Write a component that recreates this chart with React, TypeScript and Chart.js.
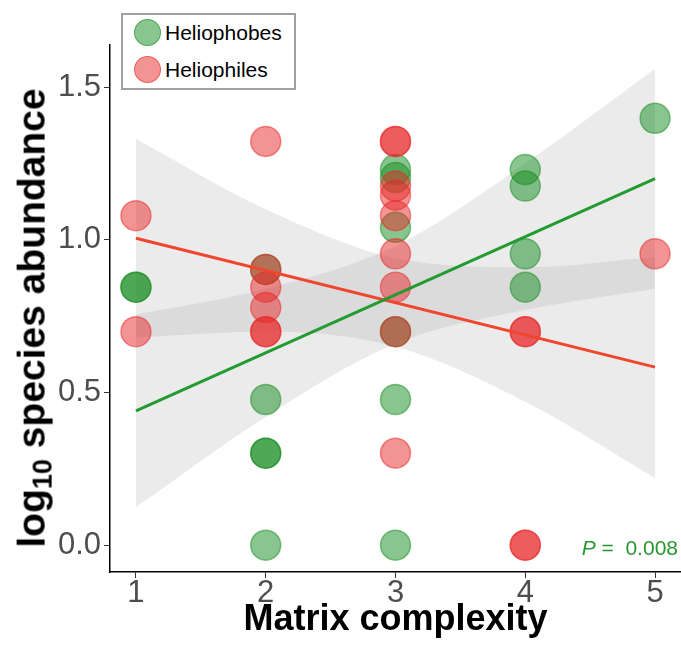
import React, { useEffect, useRef } from 'react';
import { Chart, registerables } from 'chart.js';

Chart.register(...registerables);

// ---- data ----
const xTickValues = [1, 2, 3, 4, 5];
const yTickValues = [0, 0.5, 1.0, 1.5];

// Heliophobes (green)
const phobeX = [1, 1, 2, 2, 2, 2, 2, 3, 3, 3, 3, 3, 3, 4, 4, 4, 4, 5];
const phobeY = [0.845, 0.845, 0.903, 0.477, 0.301, 0.301, 0, 1.23, 1.204, 1.041, 0.699, 0.477, 0, 1.23, 1.176, 0.954, 0.845, 1.398];

// Heliophiles (red)
const phileX = [1, 1, 2, 2, 2, 2, 2, 2, 3, 3, 3, 3, 3, 3, 3, 3, 3, 4, 4, 4, 4, 5];
const phileY = [1.079, 0.699, 1.322, 0.903, 0.845, 0.778, 0.699, 0.699, 1.322, 1.322, 1.176, 1.146, 1.079, 0.954, 0.845, 0.699, 0.301, 0.699, 0.699, 0, 0, 0.954];

// fitted lines
const fitX = [1, 5];
const phobeFit = [0.44, 1.2];
const phileFit = [1.005, 0.583];

// confidence bands
const bandX = [1, 2, 3, 4, 5];
const phobeLower = [0.125, 0.42, 0.66, 0.77, 0.84];
const phobeUpper = [0.755, 0.84, 0.98, 1.25, 1.56];
const phileLower = [0.68, 0.7, 0.65, 0.47, 0.22];
const phileUpper = [1.33, 1.1, 0.94, 0.91, 0.944];

const GREEN_PT = 'rgba(20,140,30,0.5)';
const RED_PT = 'rgba(232,40,40,0.5)';
const GREEN_LINE = 'rgb(35,155,50)';
const RED_LINE = 'rgb(240,70,45)';
const BAND = 'rgba(153,153,153,0.2)';
const FONT = "'Liberation Sans', Arial, Helvetica, sans-serif";

const pts = (xs: number[], ys: number[]) => xs.map((x, i) => ({ x, y: ys[i] }));

export default function App() {
  const ref = useRef<HTMLCanvasElement | null>(null);

  useEffect(() => {
    document.body.style.margin = '0';
    const canvas = ref.current;
    if (!canvas) return;
    const bandDs = (data: number[], fill: any, order: number) => ({
      type: 'line' as const,
      data: pts(bandX, data),
      borderWidth: 0,
      borderColor: 'rgba(0,0,0,0)',
      backgroundColor: BAND,
      pointRadius: 0,
      fill,
      cubicInterpolationMode: 'monotone' as const,
      order,
    });
    const chart = new Chart(canvas, {
      type: 'line',
      data: {
        datasets: [
          bandDs(phobeLower, false, 10),
          bandDs(phobeUpper, '-1', 11),
          bandDs(phileLower, false, 12),
          bandDs(phileUpper, '-1', 13),
          {
            label: 'Heliophobes',
            data: pts(phobeX, phobeY),
            showLine: false,
            pointRadius: 15,
            pointHoverRadius: 15,
            backgroundColor: GREEN_PT,
            borderColor: GREEN_PT,
            borderWidth: 1.5,
            order: 5,
          },
          {
            label: 'Heliophiles',
            data: pts(phileX, phileY),
            showLine: false,
            pointRadius: 15,
            pointHoverRadius: 15,
            backgroundColor: RED_PT,
            borderColor: RED_PT,
            borderWidth: 1.5,
            order: 4,
          },
          {
            data: pts(fitX, phileFit),
            borderColor: RED_LINE,
            borderWidth: 3,
            pointRadius: 0,
            fill: false,
            order: 1,
          },
          {
            data: pts(fitX, phobeFit),
            borderColor: GREEN_LINE,
            borderWidth: 3,
            pointRadius: 0,
            fill: false,
            order: 0,
          },
        ],
      },
      options: {
        animation: false,
        responsive: false,
        events: [],
        layout: { autoPadding: false, padding: { top: 45, left: 0, right: 0, bottom: 0 } },
        plugins: {
          legend: { display: false },
          tooltip: { enabled: false },
          filler: { drawTime: 'beforeDatasetsDraw' },
        },
        scales: {
          x: {
            type: 'linear',
            min: 0.8,
            max: 5.2,
            afterBuildTicks: (s: any) => {
              s.ticks = xTickValues.map((v) => ({ value: v }));
            },
            afterFit: (s: any) => {
              s.height = 73;
              s.paddingLeft = 0;
              s.paddingRight = 0;
            },
            ticks: {
              font: { family: FONT, size: 31 },
              color: '#4d4d4d',
              padding: -3,
              maxRotation: 0,
              autoSkip: false,
              callback: (v: any) => String(v),
            },
            grid: { drawOnChartArea: false, drawTicks: true, tickLength: 6, color: '#333', lineWidth: 1 },
            border: { display: true, color: '#000', width: 1.5 },
            title: {
              display: true,
              text: 'Matrix complexity',
              font: { family: FONT, size: 36, weight: 'bold' },
              color: '#000',
              padding: { top: 0, bottom: 3 },
            },
          },
          y: {
            type: 'linear',
            min: -0.088,
            max: 1.638,
            afterBuildTicks: (s: any) => {
              s.ticks = yTickValues.map((v) => ({ value: v }));
            },
            afterFit: (s: any) => {
              s.width = 110;
              s.paddingTop = 0;
              s.paddingBottom = 0;
            },
            ticks: {
              font: { family: FONT, size: 31 },
              color: '#4d4d4d',
              padding: 3,
              autoSkip: false,
              callback: (v: any) => Number(v).toFixed(1),
            },
            grid: { drawOnChartArea: false, drawTicks: true, tickLength: 6, color: '#333', lineWidth: 1 },
            border: { display: true, color: '#000', width: 1.5 },
          },
        },
      },
    } as any);
    return () => chart.destroy();
  }, []);

  const dot = (c: string, top: number) => (
    <div
      style={{
        position: 'absolute',
        left: 134,
        top: top - 14,
        width: 25,
        height: 25,
        borderRadius: '50%',
        background: c,
        border: `1.5px solid ${c}`,
      }}
    />
  );

  return (
    <div style={{ position: 'relative', width: 681, height: 645, background: '#fff', fontFamily: FONT }}>
      <canvas ref={ref} width={681} height={645} style={{ display: 'block' }} />
      <div
        style={{
          position: 'absolute',
          left: 34,
          top: 318,
          transform: 'translate(-50%, -50%) rotate(-90deg)',
          whiteSpace: 'nowrap',
          fontWeight: 'bold',
          fontSize: 39,
          color: '#000',
          lineHeight: 1,
        }}
      >
        log<sub style={{ fontSize: 27, verticalAlign: '-0.25em' }}>10</sub> species abundance
      </div>
      <div
        style={{
          position: 'absolute',
          left: 121,
          top: 13,
          width: 171,
          height: 73,
          border: '2px solid #a0a0a0',
          background: '#fff',
        }}
      />
      {dot(GREEN_PT, 33)}
      {dot(RED_PT, 70)}
      <div style={{ position: 'absolute', left: 165, top: 20, fontSize: 21, color: '#000', lineHeight: '26px' }}>Heliophobes</div>
      <div style={{ position: 'absolute', left: 165, top: 57, fontSize: 21, color: '#000', lineHeight: '26px' }}>Heliophiles</div>
      <div
        style={{
          position: 'absolute',
          right: 3,
          top: 535,
          fontSize: 21,
          color: 'rgb(40,150,50)',
          lineHeight: '26px',
          whiteSpace: 'pre',
        }}
      >
        <i>P</i>{' =  0.008'}
      </div>
    </div>
  );
}
